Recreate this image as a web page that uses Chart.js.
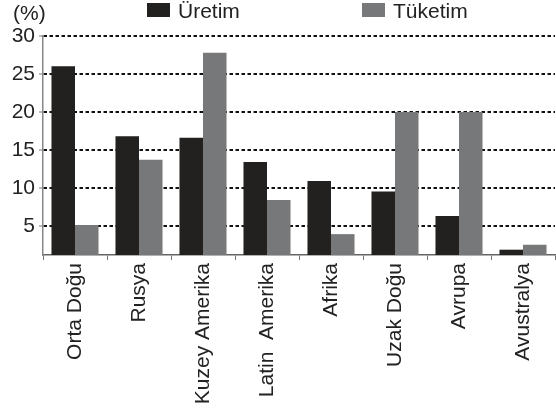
<!DOCTYPE html>
<html>
<head>
<meta charset="utf-8">
<script src="https://cdn.jsdelivr.net/npm/chart.js@4.4.0/dist/chart.umd.min.js"></script>
<style>
  html, body { margin: 0; padding: 0; background: #fff; }
  #wrap { width: 556px; height: 411px; }
</style>
</head>
<body>
<div id="wrap"><canvas id="chart" width="556" height="411"></canvas></div>
<script>
// ---- data ----
const regions = ["Orta Doğu", "Rusya", "Kuzey Amerika", "Latin  Amerika", "Afrika", "Uzak Doğu", "Avrupa", "Avustralya"];
const uretim  = [26, 16.8, 16.6, 13.4, 10.9, 9.5, 6.3, 1.85];
const tuketim = [5.1, 13.7, 27.8, 8.4, 3.9, 20, 20, 2.5];
const yTicks  = [5, 10, 15, 20, 25, 30];
const unitLabel = "(%)";

const FONT = "'Liberation Sans', Arial, sans-serif";
const TEXT = "#222";

// legend + unit label drawn by hand so spacing matches
const extras = {
    id: "extras",
    afterDraw(chart) {
        const ctx = chart.ctx;
        ctx.save();
        ctx.font = "21px " + FONT;
        ctx.fillStyle = TEXT;
        ctx.textBaseline = "alphabetic";
        ctx.fillText(unitLabel, 13, 20);

        const xs = [147, 362];
        chart.data.datasets.forEach((ds, i) => {
            ctx.fillStyle = ds.backgroundColor;
            ctx.fillRect(xs[i], 3, 23, 14);
            ctx.fillStyle = TEXT;
            ctx.fillText(ds.label, xs[i] + 31, 18);
        });
        ctx.restore();
    }
};

new Chart(document.getElementById("chart"), {
    type: "bar",
    data: {
        labels: regions,
        datasets: [
            { label: "Üretim",  data: uretim,  backgroundColor: "#222120" },
            { label: "Tüketim", data: tuketim, backgroundColor: "#77787a" }
        ]
    },
    options: {
        responsive: false,
        animation: false,
        layout: { padding: { top: 36, right: 1, left: 0, bottom: 0 } },
        datasets: { bar: { categoryPercentage: 0.735, barPercentage: 1.0 } },
        plugins: {
            legend: { display: false },
            tooltip: { enabled: false }
        },
        scales: {
            x: {
                grid: {
                    drawOnChartArea: false,
                    drawTicks: true,
                    tickLength: 5,
                    tickColor: "#777",
                    tickWidth: 1
                },
                border: { display: true, color: "#666", width: 1.5 },
                ticks: {
                    minRotation: 90,
                    maxRotation: 90,
                    padding: 3,
                    color: TEXT,
                    font: { family: FONT, size: 21 }
                },
                afterFit(scale) { scale.height = 156; }
            },
            y: {
                min: 1.15,
                max: 30,
                afterBuildTicks(scale) {
                    scale.ticks = yTicks.map(v => ({ value: v }));
                },
                grid: {
                    color: "#111",
                    lineWidth: 2,
                    drawTicks: true,
                    tickLength: 4,
                    tickColor: "#777",
                    tickWidth: 1,
                    tickBorderDash: []
                },
                border: { display: true, color: "#888", width: 1.5, dash: [3.5, 2.5] },
                ticks: {
                    padding: 4,
                    color: TEXT,
                    font: { family: FONT, size: 21 }
                },
                afterFit(scale) { scale.width = 43; }
            }
        }
    },
    plugins: [extras]
});
</script>
</body>
</html>
